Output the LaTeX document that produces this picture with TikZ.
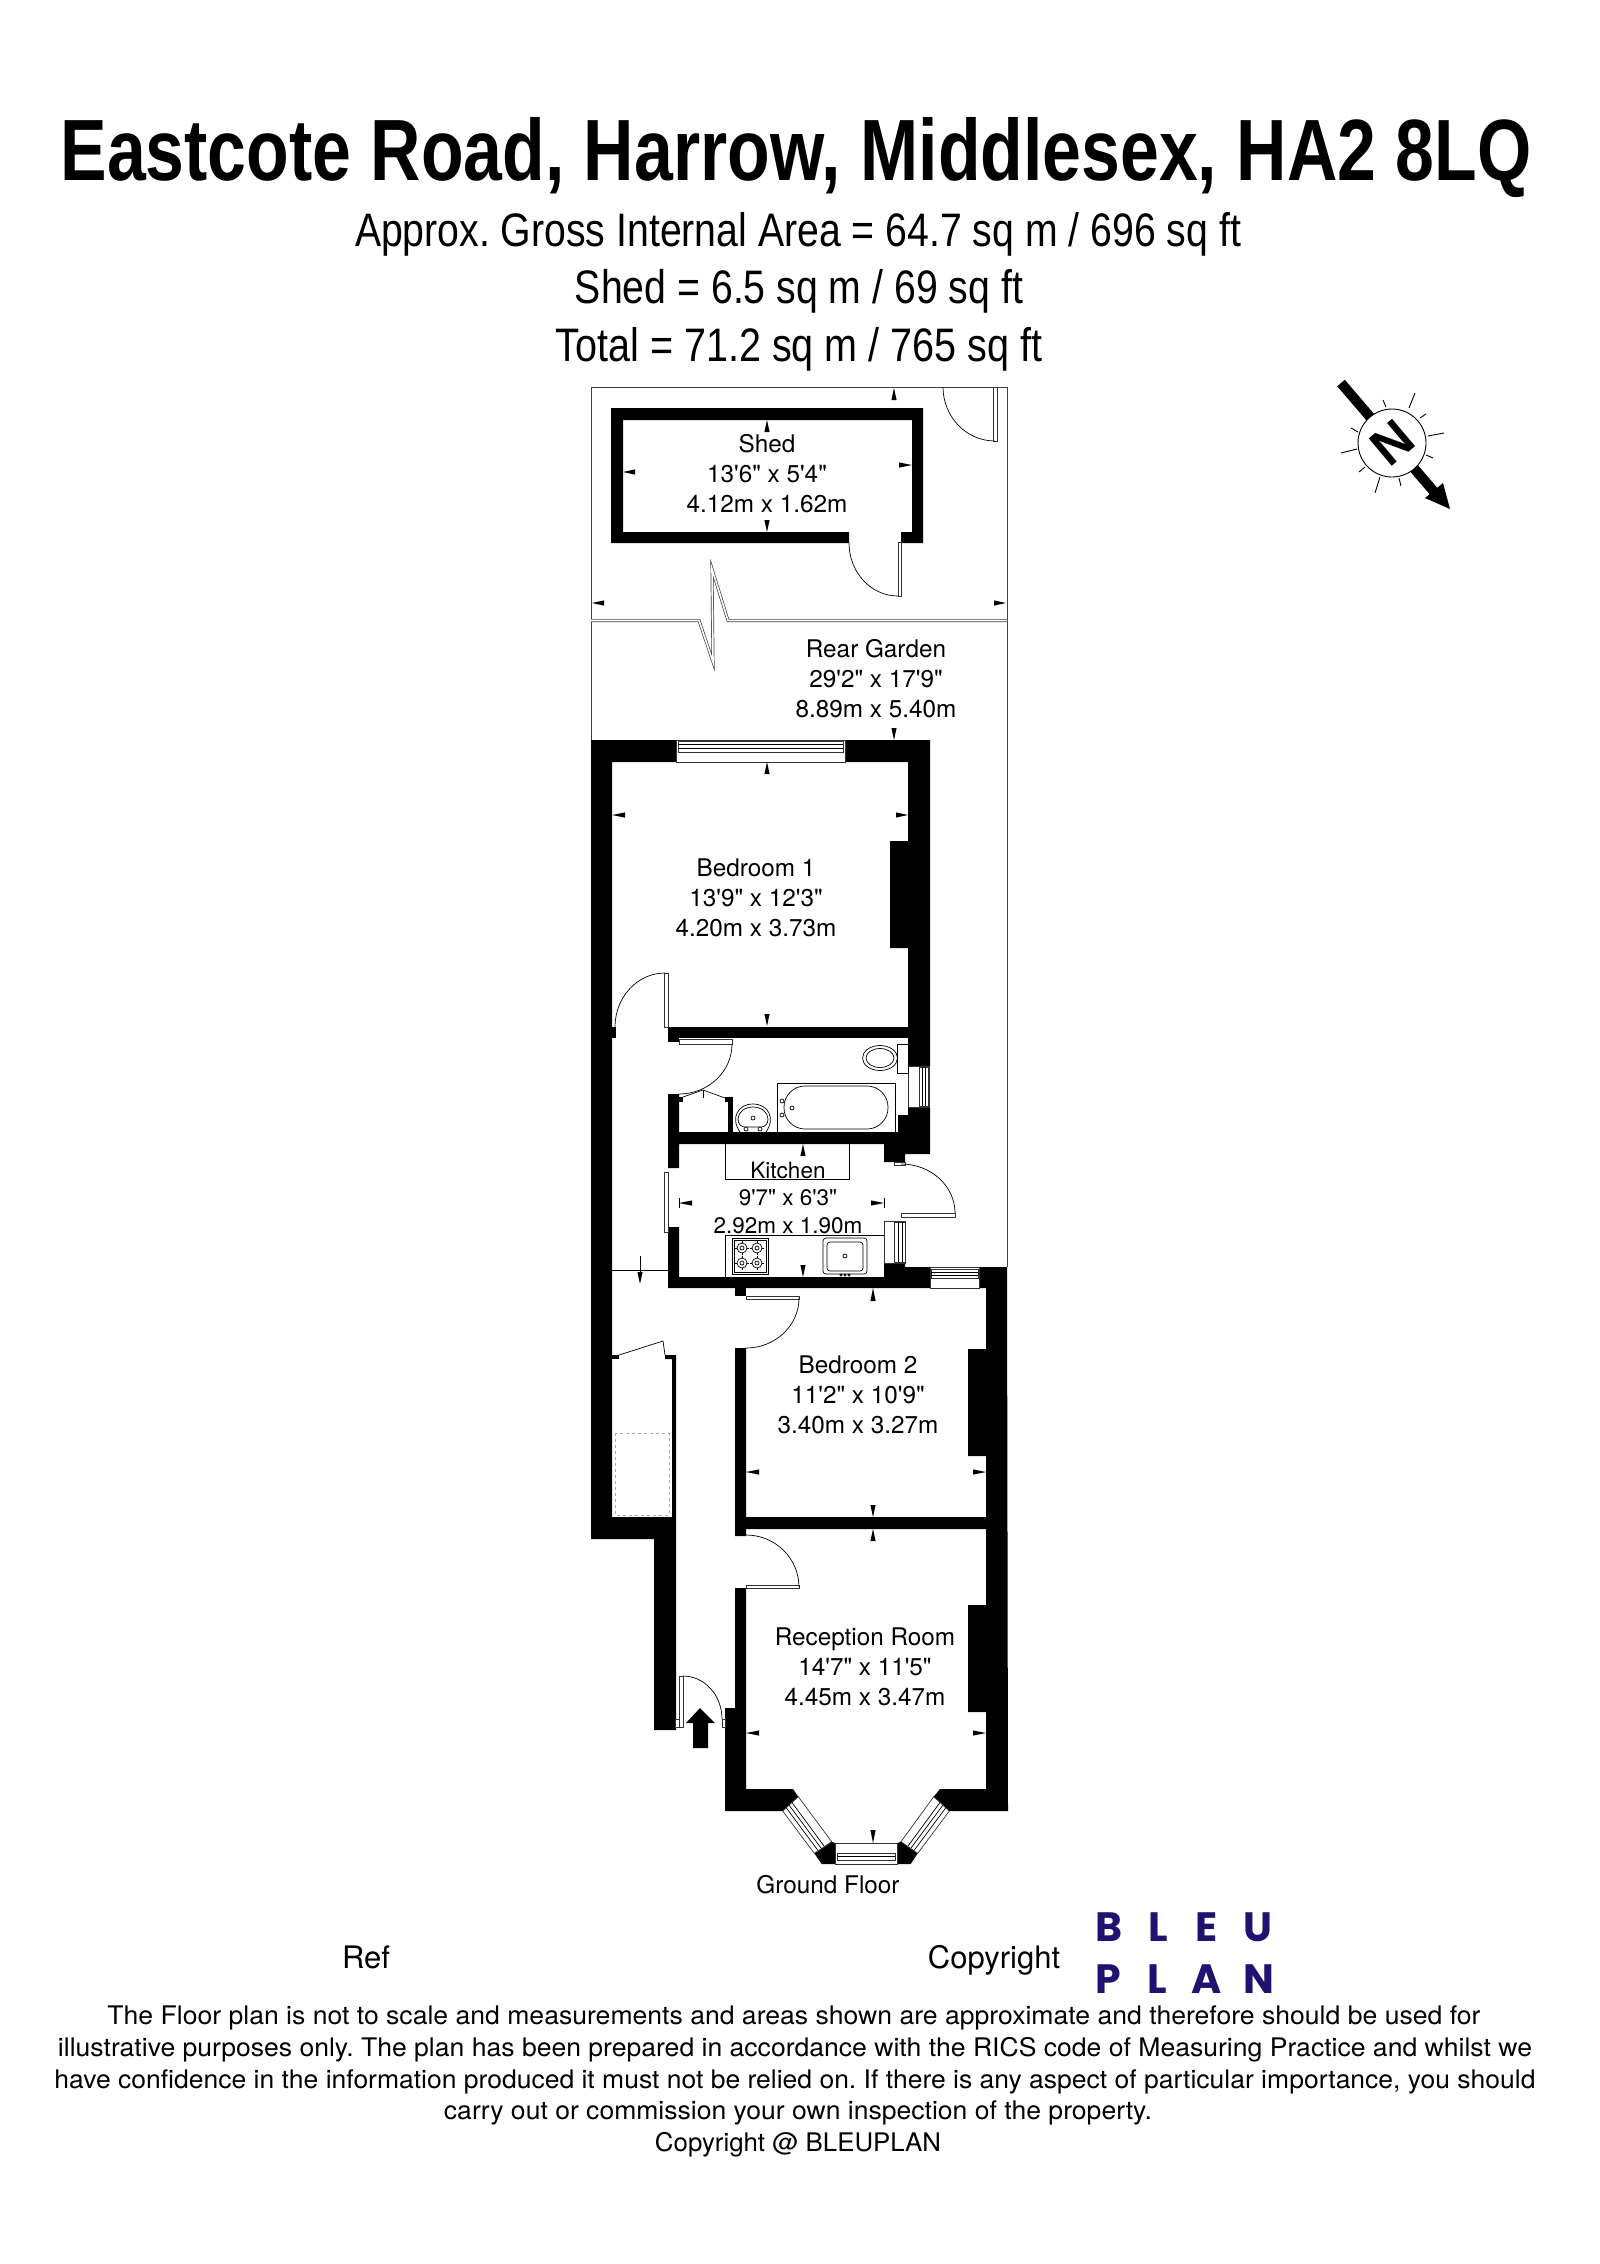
\documentclass[tikz,border=0pt]{standalone}
\usepackage{fontspec}
\setmainfont{Liberation Sans}
\newfontfamily\planfont{TeX Gyre Heros}
\newfontfamily\logofont{Poppins}
\usetikzlibrary{calc}
\definecolor{bleuink}{HTML}{1F1270}
\frenchspacing
\tikzset{
	wall/.style={fill=black, draw=none},
	fine/.style={draw=black, line width=0.7pt},
	bound/.style={draw=black!75, line width=0.9pt},
	glaze/.style={draw=black!80, line width=0.7pt, fill=white},
	roomtext/.style={anchor=base, inner sep=0pt, align=center, font=\planfont\frenchspacing\fontsize{24.3}{29.6}\selectfont},
	notetext/.style={anchor=base, inner sep=0pt, font=\planfont\frenchspacing\fontsize{25.6}{25.6}\selectfont},
	headtext/.style={anchor=base, inner sep=0pt, font=\frenchspacing\fontsize{47}{47}\selectfont},
	logotext/.style={anchor=base, inner sep=0pt, text=bleuink, font=\logofont\bfseries\fontsize{41}{41}\selectfont}
}
\def\tick(#1)(#2){\fill ($(#2)!2.6pt!90:(#1)$) -- (#1) -- ($(#2)!2.6pt!-90:(#1)$) -- cycle;}
\def\swing(#1)(#2)(#3){\draw[fine] (#1) .. controls ($(#1)!0.5523!(#2)$) and ($(#3)!0.5523!(#2)$) .. (#3);}
\def\burner(#1){\draw[fine] ($(#1)+(-7,0)$) -- ++(14,0); \draw[fine] ($(#1)+(0,-7)$) -- ++(0,14); \draw[fine, fill=white] (#1) circle (5pt); \draw[fine, fill=white] (#1) circle (2pt);}
\begin{document}
\begin{tikzpicture}[x=1pt, y=-1pt]
	%%%%% START %%%%%
	\useasboundingbox (0,0) rectangle (1600,2264);
	\fill[white] (0,0) rectangle (1600,2264);

	\node[anchor=base, inner sep=0pt, font=\bfseries\fontsize{87}{87}\selectfont] (title) at (796,180) {\resizebox{1471pt}{\height}{Eastcote Road, Harrow, Middlesex, HA2 8LQ}};
	\node[headtext] (areatotal) at (798,246) {\resizebox{886pt}{\height}{Approx. Gross Internal Area = 64.7 sq m / 696 sq ft}};
	\node[headtext] (areashed) at (799,303) {\resizebox{448pt}{\height}{Shed = 6.5 sq m / 69 sq ft}};
	\node[headtext] (areaall) at (799,361) {\resizebox{487pt}{\height}{Total = 71.2 sq m / 765 sq ft}};

	% garden
	\draw[bound] (591,740) -- (591,387) -- (1007,387) -- (1007,1267);
	\draw[bound, double=white, double distance=1.6pt, line width=0.7pt, miter limit=20] (591,620.5) -- (699,620.5) -- (713,662) -- (712,569) -- (728,620.5) -- (1007,620.5);

	% shed
	\fill[wall] (611,408) -- (923,408) -- (923,543) -- (901,543) -- (901,532) -- (912,532) -- (912,420) -- (623,420) -- (623,532) -- (849,532) -- (849,543) -- (611,543) -- cycle;
	\draw[glaze] (898,542) rectangle (901,596);
	\swing(849,543)(849,596)(898,596)
	\draw[glaze] (993,387) rectangle (997,441);
	\swing(943,387)(943,441)(995,441)

	% walls
	\fill[wall] (591,740) -- (676,740) -- (676,762) -- (612,762) -- (612,1517) -- (672,1517) -- (672,1359) -- (665,1359) -- (665,1355) -- (676,1355) -- (676,1730) -- (654,1730) -- (654,1539) -- (591,1539) -- cycle;
	\fill[wall] (612,1355) rectangle (619,1359);
	\fill[wall] (612,1027) rectangle (616,1038);
	\fill[wall] (845,740) -- (930,740) -- (930,1066) -- (908,1066) -- (908,948) -- (890,948) -- (890,841) -- (908,841) -- (908,762) -- (845,762) -- cycle;
	\fill[wall] (668,1027) rectangle (908,1038);
	\fill[wall] (668,1038) rectangle (679,1042);
	\fill[wall] (930,1107) -- (930,1154) -- (905,1154) -- (905,1162) -- (884,1162) -- (884,1144) -- (679,1144) -- (679,1168) -- (668,1168) -- (668,1094) -- (679,1094) -- (679,1132) -- (898,1132) -- (898,1115) -- (908,1115) -- (908,1107) -- cycle;
	\fill[wall] (679,1097) rectangle (683,1102);
	\fill[wall] (725,1097) rectangle (733,1102);
	\fill[wall] (728,1102) rectangle (733,1132);
	\fill[wall] (668,1227) -- (679,1227) -- (679,1277) -- (884,1277) -- (884,1263) -- (905,1263) -- (905,1267) -- (930,1267) -- (930,1288) -- (668,1288) -- cycle;
	\fill[wall] (735,1288) rectangle (746,1296);
	\fill[wall] (979,1267) -- (1007,1267) -- (1008,1811) -- (949.3,1811) -- (933.7,1796.7) -- (940,1789) -- (986,1789) -- (986,1712) -- (968,1712) -- (968,1605) -- (986,1605) -- (986,1529) -- (746,1529) -- (746,1536) -- (735,1536) -- (735,1348) -- (746,1348) -- (746,1517) -- (986,1517) -- (986,1456) -- (968,1456) -- (968,1349) -- (986,1349) -- (986,1288) -- (979,1288) -- cycle;
	\fill[wall] (735,1588) -- (746,1588) -- (746,1789) -- (793,1789) -- (798.3,1796.7) -- (782.7,1811) -- (725,1811) -- (725,1708) -- (735,1708) -- cycle;

	% bay
	\fill[wall] (831.7,1841.7) -- (835,1843) -- (835,1864) -- (821.7,1864) -- (814.3,1853.3) -- cycle;
	\fill[wall] (901,1841.7) -- (897.3,1843) -- (897.3,1864) -- (910.7,1864) -- (917.7,1853.3) -- cycle;
	\draw[glaze] (798.3,1796.7) -- (782.7,1811) -- (814.3,1853.3) -- (831.7,1841.7) -- cycle;
	\draw[fine] (786,1807.5) -- (818,1850.5);
	\draw[fine] (789,1805) -- (821,1848);
	\draw[fine] (792,1802.5) -- (824,1846);
	\draw[glaze] (933.7,1796.7) -- (949.3,1811) -- (917.7,1853.3) -- (901,1841.7) -- cycle;
	\draw[fine] (946,1807.5) -- (914,1850.5);
	\draw[fine] (943,1805) -- (911,1848);
	\draw[fine] (940,1802.5) -- (908,1846);
	\draw[glaze] (835,1843) rectangle (897.3,1864);
	\draw[glaze] (837,1853) rectangle (895,1860);
	\draw[fine] (837,1856.5) -- (895,1856.5);

	% windows
	\draw[glaze] (676,740) rectangle (845,762);
	\draw[glaze] (678,741) rectangle (843,752);
	\draw[fine] (678,744) -- (843,744);
	\draw[fine] (678,748) -- (843,748);
	\draw[glaze] (930,1267) rectangle (979,1288);
	\draw[glaze] (931,1269) rectangle (978,1278);
	\draw[fine] (931,1272) -- (978,1272);
	\draw[fine] (931,1275) -- (978,1275);
	\draw[glaze] (908,1066) rectangle (929,1107);
	\draw[glaze] (919,1067) rectangle (928,1106);
	\draw[fine] (922,1067) -- (922,1106);
	\draw[fine] (925,1067) -- (925,1106);
	\draw[glaze] (884,1221) rectangle (905,1263);
	\draw[glaze] (894,1222) rectangle (905,1262);
	\draw[fine] (898,1222) -- (898,1262);
	\draw[fine] (902,1222) -- (902,1262);

	% doors
	\draw[glaze] (664,973) rectangle (668,1027);
	\swing(615,1027)(615,973)(665,973)
	\draw[glaze] (679,1039) rectangle (732,1044);
	\swing(732,1044)(732,1094)(679,1094)
	\draw[glaze] (894,1162) rectangle (905,1165);
	\draw[glaze] (901,1213) rectangle (955,1217);
	\swing(901,1164)(955,1164)(955,1213)
	\draw[glaze] (664,1172) rectangle (668,1232);
	\draw[glaze] (746,1296) rectangle (799,1299);
	\swing(799,1298)(799,1348)(746,1348)
	\draw[glaze] (746,1585) rectangle (799,1588);
	\swing(746,1535)(799,1535)(799,1587)
	\draw[glaze] (679,1676) rectangle (683,1727);
	\draw[glaze] (675,1719) rectangle (679,1727);
	\draw[glaze] (722,1719) rectangle (725,1727);
	\swing(683,1676)(722,1676)(722,1719)

	% cupboards
	\draw[fine] (683,1097) -- (703,1090) -- (725,1098);
	\draw[fine] (703,1090) -- (703,1098);
	\draw[fine] (619,1355) -- (663,1341) -- (665,1355);
	\draw[draw=black!35, dashed, line width=0.9pt] (615,1433) rectangle (669,1515);
	\draw[fine] (612,1270) -- (668,1270);
	\draw[fine] (640,1256) -- (640,1273);

	% fittings
	\draw[fine] (725,1144) -- (725,1179) -- (849,1179) -- (849,1144);
	\draw[fine] (725,1277) -- (725,1235) -- (884,1235);
	\draw[fine] (732,1238) rectangle (768,1274);
	\draw[fine] (734,1240) rectangle (766,1272);
	\burner(742,1248)
	\burner(757,1248)
	\burner(742,1263)
	\burner(757,1263)
	\draw[fine, rounded corners=3pt] (823,1238) rectangle (867,1274);
	\draw[fine, rounded corners=3pt] (827,1242) rectangle (863,1271);
	\draw[fine] (845,1256) circle (2pt);
	\draw[fine] (841,1275) circle (1.2pt);
	\draw[fine] (845,1275) circle (1.2pt);
	\draw[fine] (849,1275) circle (1.2pt);

	\draw[fine] (777,1132) -- (777,1083) -- (895,1083) -- (895,1132);
	\draw[fine, rounded corners=21pt] (784,1086) rectangle (888,1129);
	\draw[fine] (782,1101) circle (2pt);
	\draw[fine] (782,1115) circle (2pt);
	\draw[fine] (792,1108) circle (2pt);
	\draw[fine] (740,1132) .. controls (730,1118) and (738,1104) .. (753,1104) .. controls (768,1104) and (776,1118) .. (766,1132);
	\draw[fine] (738,1119) .. controls (738,1112) and (745,1107) .. (753,1107) .. controls (761,1107) and (768,1112) .. (768,1119) .. controls (768,1124) and (765,1127) .. (761,1127) -- (745,1127) .. controls (741,1127) and (738,1124) .. (738,1119) -- cycle;
	\draw[fine] (753,1118) circle (2pt);
	\draw[fine, fill=white] (746,1129) circle (2pt);
	\draw[fine, fill=white] (760,1129) circle (2pt);
	\draw[fine] (897,1044) rectangle (908,1073);
	\draw[fine] (880,1058) ellipse (17.5pt and 12.5pt);
	\draw[fine] (880,1058) ellipse (14pt and 9.5pt);

	% ticks
	\tick(894,388)(894,400)
	\tick(894,740)(894,728)
	\tick(767,420)(767,432)
	\tick(767,532)(767,520)
	\tick(623,472)(635,472)
	\tick(912,465)(899,465)
	\tick(592,603)(604,603)
	\tick(1006,603)(994,603)
	\tick(767,762)(767,774)
	\tick(767,1026)(767,1014)
	\tick(612,815)(625,815)
	\tick(908,815)(896,815)
	\tick(803,1144)(803,1156)
	\tick(803,1277)(803,1265)
	\tick(679,1203)(692,1203)
	\tick(884,1203)(871,1203)
	\draw[fine] (679,1198) -- (679,1208);
	\draw[fine] (884,1198) -- (884,1208);
	\tick(640,1284)(640,1272)
	\tick(873,1288)(873,1301)
	\tick(873,1517)(873,1505)
	\tick(873,1529)(873,1541)
	\tick(746,1472)(759,1472)
	\tick(986,1472)(973,1472)
	\tick(746,1733)(759,1733)
	\tick(986,1733)(973,1733)
	\tick(873,1843)(873,1830)

	% entry arrow
	\fill (700,1708) -- (715,1723) -- (708,1723) -- (708,1748) -- (693,1748) -- (693,1723) -- (686,1723) -- cycle;

	% north point
	\draw[line width=10pt] (1341,383) -- (1436,494);
	\fill (1450,509) -- (1443,483) -- (1425,498) -- cycle;
	\draw[draw=black, line width=0.9pt, fill=white] (1392,443) circle (34pt);
	\draw[fine, line width=0.9pt] (1409,408) -- (1415,393);
	\draw[fine, line width=0.9pt] (1428,436) -- (1444,433);
	\draw[fine, line width=0.9pt] (1380,477) -- (1375,493);
	\draw[fine, line width=0.9pt] (1357,449) -- (1341,453);
	\draw[fine, line width=0.9pt] (1386,407) -- (1383,400);
	\draw[fine, line width=0.9pt] (1420,418) -- (1426,414);
	\draw[fine, line width=0.9pt] (1426,455) -- (1433,458);
	\draw[fine, line width=0.9pt] (1399,478) -- (1401,486);
	\draw[fine, line width=0.9pt] (1365,467) -- (1359,472);
	\draw[fine, line width=0.9pt] (1358,432) -- (1351,428);
	\node[rotate=40, inner sep=0pt, font=\bfseries\fontsize{52}{52}\selectfont] (northmark) at (1392,443) {N};

	% room names
	\node[roomtext] (shed) at (767,512) {Shed\\13'6" x 5'4"\\4.12m x 1.62m};
	\node[roomtext] (garden) at (876,717) {Rear Garden\\29'2" x 17'9"\\8.89m x 5.40m};
	\node[roomtext] (bedone) at (756,936) {Bedroom 1\\13'9" x 12'3"\\4.20m x 3.73m};
	\node[roomtext, font=\planfont\frenchspacing\fontsize{22.5}{27.5}\selectfont] (kitchen) at (788,1233) {Kitchen\\9'7" x 6'3"\\2.92m x 1.90m};
	\node[roomtext] (bedtwo) at (858,1433) {Bedroom 2\\11'2" x 10'9"\\3.40m x 3.27m};
	\node[roomtext] (reception) at (865,1705) {Reception Room\\14'7" x 11'5"\\4.45m x 3.47m};
	\node[roomtext] (floorname) at (828,1893) {Ground Floor};

	% foot of the sheet
	\node[anchor=base, inner sep=0pt, font=\planfont\fontsize{31}{31}\selectfont] (refword) at (366,1968) {Ref};
	\node[anchor=base, inner sep=0pt, font=\planfont\fontsize{31}{31}\selectfont] (copyword) at (994,1968) {Copyright};
	\node[logotext] (logob) at (1109,1941) {B};
	\node[logotext] (logol) at (1158,1941) {L};
	\node[logotext] (logoe) at (1207,1941) {E};
	\node[logotext] (logou) at (1258,1941) {U};
	\node[logotext] (logop) at (1108,1993) {P};
	\node[logotext] (logoll) at (1157,1993) {L};
	\node[logotext] (logoa) at (1207,1993) {A};
	\node[logotext] (logon) at (1259,1993) {N};

	\node[notetext] (noteone) at (794,2024) {\resizebox{1373pt}{\height}{The Floor plan is not to scale and measurements and areas shown are approximate and therefore should be used for}};
	\node[notetext] (notetwo) at (795,2056) {\resizebox{1474pt}{\height}{illustrative purposes only. The plan has been prepared in accordance with the RICS code of Measuring Practice and whilst we}};
	\node[notetext] (notethree) at (795,2088) {\resizebox{1481pt}{\height}{have confidence in the information produced it must not be relied on. If there is any aspect of particular importance, you should}};
	\node[notetext] (notefour) at (798,2119) {\resizebox{708pt}{\height}{carry out or commission your own inspection of the property.}};
	\node[notetext] (notefive) at (798,2151) {\resizebox{286pt}{\height}{Copyright @ BLEUPLAN}};
	%%%%% END %%%%%
\end{tikzpicture}
\end{document}
